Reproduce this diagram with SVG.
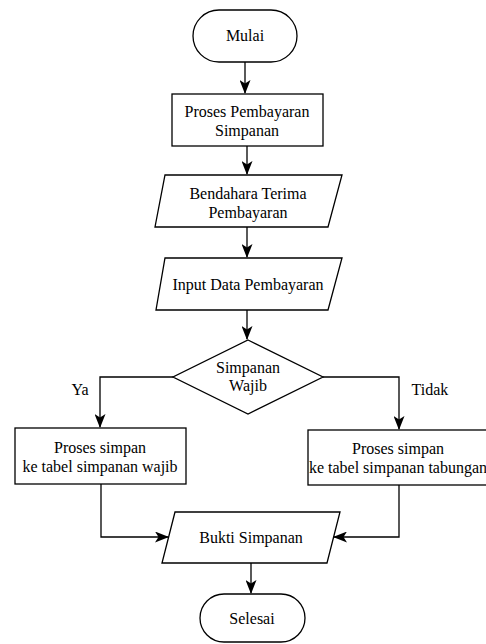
<svg xmlns="http://www.w3.org/2000/svg" width="486" height="644" viewBox="0 0 486 644">
  <style>
    .shape { fill: #ffffff; stroke: #000000; stroke-width: 1.3; }
    .edge { fill: none; stroke: #000000; stroke-width: 1.3; }
    .lbl { font-family: "Liberation Serif", "Times New Roman", Times, serif; font-size: 16px; fill: #000000; text-anchor: middle; }
  </style>
  <defs>
    <marker id="arrow" viewBox="0 0 14 11" refX="13" refY="5.5" markerWidth="14" markerHeight="11" markerUnits="userSpaceOnUse" orient="auto">
      <path d="M0,0 L14,5.5 L0,11 L3.5,5.5 Z" fill="#000000"/>
    </marker>
  </defs>
  <rect width="486" height="644" fill="#ffffff"/>

  <g id="connectors">
    <path class="edge" d="M245,62 L245,93" marker-end="url(#arrow)"/>
    <path class="edge" d="M247,146 L247,174" marker-end="url(#arrow)"/>
    <path class="edge" d="M247,227 L247,257" marker-end="url(#arrow)"/>
    <path class="edge" d="M247,310 L247,339" marker-end="url(#arrow)"/>
    <path class="edge" d="M173,377 L100,377 L100,427" marker-end="url(#arrow)"/>
    <path class="edge" d="M323,377 L399,377 L399,429" marker-end="url(#arrow)"/>
    <path class="edge" d="M101,484 L101,537 L168,537" marker-end="url(#arrow)"/>
    <path class="edge" d="M399,485 L399,537 L334,537" marker-end="url(#arrow)"/>
    <path class="edge" d="M251,563 L251,593" marker-end="url(#arrow)"/>
  </g>

  <g id="mulai">
    <rect class="shape" x="193" y="10" width="104" height="52" rx="26" ry="26"/>
    <text class="lbl" x="245" y="41">Mulai</text>
  </g>

  <g id="proses-pembayaran">
    <rect class="shape" x="172" y="94" width="151" height="52"/>
    <text class="lbl" x="247" y="117">Proses Pembayaran</text>
    <text class="lbl" x="247" y="136">Simpanan</text>
  </g>

  <g id="bendahara-terima">
    <polygon class="shape" points="165,175 342,175 328,227 155,227"/>
    <text class="lbl" x="248" y="199">Bendahara Terima</text>
    <text class="lbl" x="248" y="218">Pembayaran</text>
  </g>

  <g id="input-data">
    <polygon class="shape" points="165,258 342,258 328,310 156,310"/>
    <text class="lbl" x="248" y="290">Input Data Pembayaran</text>
  </g>

  <g id="simpanan-wajib">
    <polygon class="shape" points="248,340 323,377 248,414 173,377"/>
    <text class="lbl" x="248" y="373">Simpanan</text>
    <text class="lbl" x="248" y="391">Wajib</text>
  </g>

  <g id="label-ya">
    <text class="lbl" x="80" y="395">Ya</text>
  </g>

  <g id="label-tidak">
    <text class="lbl" x="430" y="395">Tidak</text>
  </g>

  <g id="simpan-wajib">
    <rect class="shape" x="15" y="428" width="171" height="56"/>
    <text class="lbl" x="100" y="453">Proses simpan</text>
    <text class="lbl" x="100" y="472">ke tabel simpanan wajib</text>
  </g>

  <g id="simpan-tabungan">
    <rect class="shape" x="308" y="430" width="182" height="55"/>
    <text class="lbl" x="398" y="454">Proses simpan</text>
    <text class="lbl" x="398" y="473">ke tabel simpanan tabungan</text>
  </g>

  <g id="bukti-simpanan">
    <polygon class="shape" points="175,512 340,512 327,563 162,563"/>
    <text class="lbl" x="251" y="543">Bukti Simpanan</text>
  </g>

  <g id="selesai">
    <rect class="shape" x="200" y="594" width="105" height="48" rx="24" ry="24"/>
    <text class="lbl" x="252" y="624">Selesai</text>
  </g>
</svg>
